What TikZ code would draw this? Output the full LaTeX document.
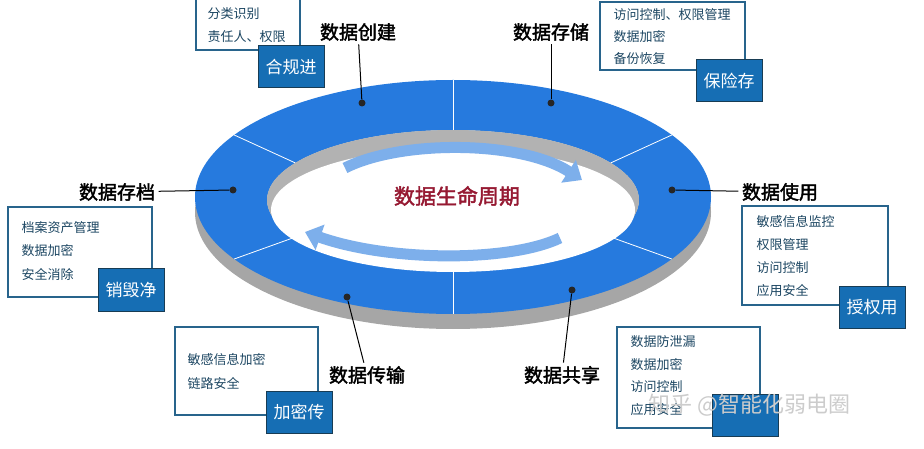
\documentclass[tikz,border=0pt]{standalone}
\usepackage{fontspec}
\setmainfont{Noto Sans CJK SC}
\newfontfamily\cjkb[FakeBold=2]{Noto Sans CJK SC}
\usetikzlibrary{arrows.meta}
\definecolor{ringb}{RGB}{38,122,222}
\definecolor{ringd}{RGB}{30,95,190}
\definecolor{boxc}{RGB}{40,100,140}
\definecolor{tagc}{RGB}{22,110,180}
\definecolor{titc}{RGB}{150,25,50}
\tikzset{
 lab/.style={font=\cjkb\fontsize{19}{19}\selectfont,text=black},
 info/.style={draw=boxc,line width=2.5pt,fill=white},
 item/.style={font=\fontsize{13}{13}\selectfont,text=boxc!70!black,anchor=west},
 tagbox/.style={draw=boxc!60!black,line width=1pt,fill=tagc,text=white,font=\fontsize{17}{17}\selectfont,minimum width=66pt,minimum height=42pt,inner sep=0pt},
 dot/.style={circle,fill=black!85,inner sep=0pt,minimum size=7pt},
 lead/.style={line width=1pt,black},
 carrow/.style={line width=11pt,-{Triangle[length=16pt,width=26pt]},color=ringb!60}
}
\begin{document}
\begin{tikzpicture}[x=1pt,y=-1pt]
\useasboundingbox (0,0) rectangle (924,449);
% ring side
\fill[gray!70,even odd rule] (453,212) ellipse [x radius=258,y radius=117] (453,200) ellipse [x radius=186,y radius=70];
% ring top
\fill[ringb,even odd rule] (453,197) ellipse [x radius=258,y radius=117] (453,200) ellipse [x radius=186,y radius=70];
\fill[gray!60] (453,200) ellipse [x radius=186,y radius=70];
\fill[white] (453,210) ellipse [x radius=182,y radius=62];
% dividers
\foreach \a in {90,148,32,212,270,328}
  \draw[white,line width=0.8pt] ({453+258*cos(\a)},{197-117*sin(\a)}) -- ({453+186*cos(\a)},{200-70*sin(\a)});
% center arrows
\draw[carrow] (345,168) .. controls (400,140) and (520,140) .. (582,180);
\draw[carrow] (560,238) .. controls (510,262) and (390,262) .. (305,232);
\node[font=\cjkb\fontsize{21}{21}\selectfont,text=titc] (title) at (457,196) {数据生命周期};
% dots & labels
\node[dot] (d1) at (362,103) {}; \node[lab] (l1) at (358,32) {数据创建};
\node[dot] (d2) at (551,103) {}; \node[lab] (l2) at (551,32) {数据存储};
\node[dot] (d3) at (672,190) {}; \node[lab] (l3) at (780,192) {数据使用};
\node[dot] (d4) at (572,290) {}; \node[lab] (l4) at (562,375) {数据共享};
\node[dot] (d5) at (347,297) {}; \node[lab] (l5) at (367,375) {数据传输};
\node[dot] (d6) at (233,190) {}; \node[lab] (l6) at (117,192) {数据存档};
\draw[lead] (l1) -- (d1); \draw[lead] (l2) -- (d2); \draw[lead] (l3) -- (d3);
\draw[lead] (l4) -- (d4); \draw[lead] (l5) -- (d5); \draw[lead] (l6) -- (d6);
% boxes
\draw[info] (196,-2) rectangle (300,50);
\node[item] at (204,14) {分类识别}; \node[item] at (204,37) {责任人、权限};
\node[tagbox] (t1) at (291,67) {合规进};
\draw[info] (600,2) rectangle (745,70);
\node[item] at (610,15) {访问控制、权限管理}; \node[item] at (610,37) {数据加密}; \node[item] at (610,59) {备份恢复};
\node[tagbox] (t2) at (729,81) {保险存};
\draw[info] (742,206) rectangle (888,305);
\node[item] at (753,222) {敏感信息监控}; \node[item] at (753,245) {权限管理}; \node[item] at (753,268) {访问控制}; \node[item] at (753,291) {应用安全};
\node[tagbox] (t3) at (872,307) {授权用};
\draw[info] (617,327) rectangle (760,428);
\node[item] at (627,342) {数据防泄漏}; \node[item] at (627,365) {数据加密}; \node[item] at (627,387) {访问控制}; \node[item] at (627,410) {应用安全};
\node[tagbox] (t4) at (745,415) {};
\draw[info] (175,327) rectangle (318,415);
\node[item] at (184,360) {敏感信息加密}; \node[item] at (184,383) {链路安全};
\node[tagbox] (t5) at (299,412) {加密传};
\draw[info] (8,207) rectangle (152,297);
\node[item] at (18,228) {档案资产管理}; \node[item] at (18,251) {数据加密}; \node[item] at (18,274) {安全消除};
\node[tagbox] (t6) at (131,290) {销毁净};
\node[font=\fontsize{22}{22}\selectfont,text=gray!40,anchor=west] (wm) at (645,405) {知乎 @智能化弱电圈};
\end{tikzpicture}
\end{document}
